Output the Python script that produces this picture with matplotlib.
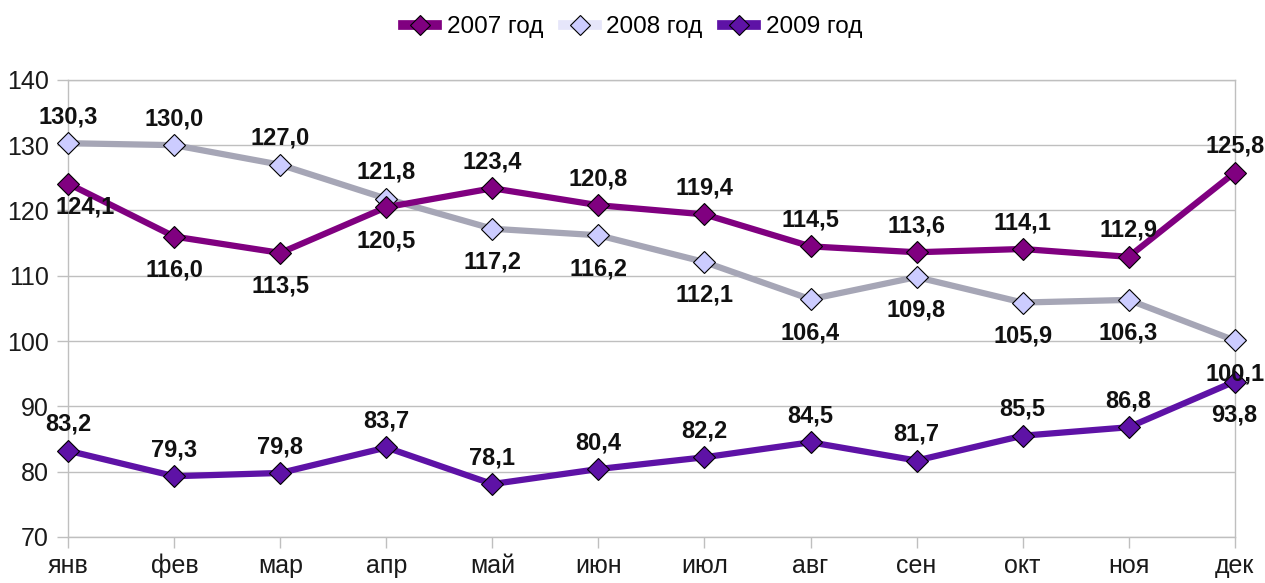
import numpy as np
import matplotlib
matplotlib.use('Agg')
import matplotlib.pyplot as plt
from matplotlib.lines import Line2D

plt.rcParams['font.family'] = ['Liberation Sans', 'DejaVu Sans']

# Data
months = ['янв', 'фев', 'мар', 'апр', 'май', 'июн', 'июл', 'авг', 'сен', 'окт', 'ноя', 'дек']
y2007 = [124.1, 116.0, 113.5, 120.5, 123.4, 120.8, 119.4, 114.5, 113.6, 114.1, 112.9, 125.8]
y2008 = [130.3, 130.0, 127.0, 121.8, 117.2, 116.2, 112.1, 106.4, 109.8, 105.9, 106.3, 100.1]
y2009 = [83.2, 79.3, 79.8, 83.7, 78.1, 80.4, 82.2, 84.5, 81.7, 85.5, 86.8, 93.8]

# label placement: 1 = above, -1 = below
pos2007 = [-1, -1, -1, -1, 1, 1, 1, 1, 1, 1, 1, 1]
pos2008 = [1, 1, 1, 1, -1, -1, -1, -1, -1, -1, -1, -1]
pos2009 = [1] * 11 + [-1]

c2007 = '#800080'
c2008_line = '#A6A6B6'
c2008_mark = '#CCCCFF'
c2009 = '#5E12A6'

fig = plt.figure(figsize=(12.65, 5.83), dpi=100)
ax = fig.add_axes([0.054, 0.079, 0.922, 0.784])
x = np.arange(len(months))

ax.plot(x, y2007, color=c2007, lw=4.5, marker='D', ms=11, mfc=c2007, mec='black', mew=0.8, zorder=4, clip_on=False)
ax.plot(x, y2008, color=c2008_line, lw=4.5, marker='D', ms=11, mfc=c2008_mark, mec='black', mew=0.8, zorder=3, clip_on=False)
ax.plot(x, y2009, color=c2009, lw=4.5, marker='D', ms=11, mfc=c2009, mec='black', mew=0.8, zorder=4, clip_on=False)

def fmt(v):
    return f'{v:.1f}'.replace('.', ',')

for ys, ps in [(y2007, pos2007), (y2008, pos2008), (y2009, pos2009)]:
    for i, (v, p) in enumerate(zip(ys, ps)):
        dy = 19 if p > 0 else -24
        dx = 0
        if i == 0 and p < 0:
            dx = 12
            dy = -17
        ax.annotate(fmt(v), (i, v), xytext=(dx, dy), textcoords='offset points',
                    ha='center', va='center', fontsize=17, fontweight='bold',
                    color='#111111', zorder=6, annotation_clip=False)

ax.set_xlim(0, 11)
ax.set_ylim(70, 140)
ax.set_yticks(range(70, 141, 10))
ax.set_xticks(x)
ax.set_xticklabels(months)
ax.grid(axis='y', color='#BFBFBF', lw=1)
ax.set_axisbelow(True)
for s in ax.spines.values():
    s.set_color('#BFBFBF')
    s.set_linewidth(1)
ax.tick_params(axis='both', colors='#BFBFBF', labelcolor='#1a1a1a', labelsize=18, length=8, width=1)
ax.tick_params(axis='x', pad=4)
ax.tick_params(axis='y', pad=6)

handles = [
    Line2D([], [], color=c2007, lw=7, marker='D', ms=10, mfc=c2007, mec='black', mew=0.8),
    Line2D([], [], color='#E6E6FA', lw=7, marker='D', ms=10, mfc=c2008_mark, mec='black', mew=0.8),
    Line2D([], [], color=c2009, lw=7, marker='D', ms=10, mfc=c2009, mec='black', mew=0.8),
]
fig.legend(handles, ['2007 год', '2008 год', '2009 год'], loc='upper center',
           bbox_to_anchor=(0.5, 1.01), ncol=3, frameon=False, fontsize=17.5,
           handlelength=1.4, handletextpad=0.4, columnspacing=0.8)

fig.savefig('out.png', dpi=100)
